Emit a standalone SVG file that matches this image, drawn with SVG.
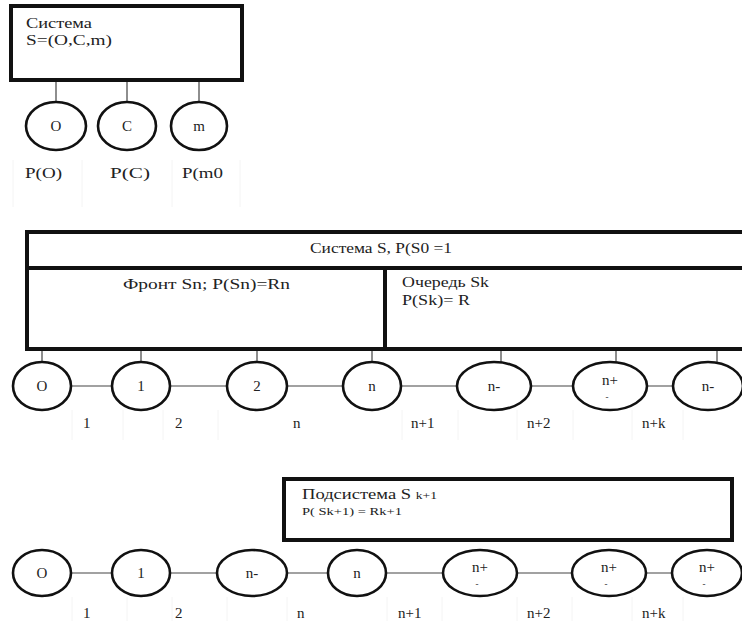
<svg xmlns="http://www.w3.org/2000/svg" width="742" height="621" viewBox="0 0 742 621">
<style>
text{font-family:"Liberation Serif","Times New Roman",serif;font-size:15px;fill:#222}
.c{text-anchor:middle}
.box{fill:#fff;stroke:#111;stroke-width:4}
.el{fill:#fff;stroke:#111;stroke-width:2.6}
.ln{stroke:#444;stroke-width:1.2;fill:none}
.fa{stroke:#f4f4f4;stroke-width:1;fill:none}
.sm{font-size:11px}
.dash{font-size:9px}
</style>
<rect width="742" height="621" fill="#fff"/>
<g id="faint" class="fa">
<path d="M13 160V207M82 160V207M172 160V207M240 160V207"/>
<path d="M72 410V440M123 410V440M163 410V440M218 410V440M402 410V440M458 410V440M517 410V440M573 410V440M632 410V440M683 410V440"/>
<path d="M72 597V621M127 597V621M172 597V621M227 597V621M287 597V621M387 597V621M442 597V621M517 597V621M572 597V621M632 597V621M683 597V621"/>
</g>
<g id="connectors" class="ln">
<path d="M56 80V102M127 80V102M199 80V102"/>
<path d="M42 349V362M141 349V362M257 349V362M372 349V362M501 349V362M616 349V362M717 349V362"/>
<path d="M71 386H112M170 386H227M287 386H343M401 386H457M531 386H573M647 386H673"/>
<path d="M71 573H112M170 573H217M287 573H328M386 573H443M517 573H572M646 573H672"/>
</g>
<g id="system1">
<rect class="box" x="11" y="6" width="231" height="74"/>
<text x="26" y="28" textLength="66" lengthAdjust="spacingAndGlyphs">Система</text>
<text x="26" y="45" textLength="86" lengthAdjust="spacingAndGlyphs">S=(O,C,m)</text>
</g>
<g id="nodeO1"><ellipse class="el" cx="56" cy="126" rx="30" ry="24"/><text class="c" x="56" y="131">O</text></g>
<g id="nodeC1"><ellipse class="el" cx="127" cy="126" rx="29" ry="24"/><text class="c" x="127" y="131">C</text></g>
<g id="nodem1"><ellipse class="el" cx="199" cy="126" rx="28" ry="24"/><text class="c" x="199" y="131">m</text></g>
<g id="labels1">
<text x="25" y="178" textLength="37" lengthAdjust="spacingAndGlyphs">P(O)</text>
<text x="110" y="178" textLength="40" lengthAdjust="spacingAndGlyphs">P(C)</text>
<text x="182" y="178" textLength="41" lengthAdjust="spacingAndGlyphs">P(m0</text>
</g>
<g id="system2">
<rect class="box" x="27" y="232" width="720" height="117"/>
<path d="M27 268H747M385 268V349" stroke="#111" stroke-width="4" fill="none"/>
<text x="310" y="253" textLength="142" lengthAdjust="spacingAndGlyphs">Система S, P(S0 =1</text>
<text x="123" y="289" textLength="167" lengthAdjust="spacingAndGlyphs">Фронт Sn; P(Sn)=Rn</text>
<text x="402" y="287" textLength="87" lengthAdjust="spacingAndGlyphs">Очередь Sk</text>
<text x="402" y="305" textLength="68" lengthAdjust="spacingAndGlyphs">P(Sk)= R</text>
</g>
<g id="r2n0"><ellipse class="el" cx="42" cy="386" rx="29" ry="24"/><text class="c" x="42" y="391">O</text></g>
<g id="r2n1"><ellipse class="el" cx="141" cy="386" rx="29" ry="24"/><text class="c" x="141" y="391">1</text></g>
<g id="r2n2"><ellipse class="el" cx="257" cy="386" rx="30" ry="24"/><text class="c" x="257" y="391">2</text></g>
<g id="r2n3"><ellipse class="el" cx="372" cy="386" rx="29" ry="24"/><text class="c" x="372" y="391">n</text></g>
<g id="r2n4"><ellipse class="el" cx="494" cy="386" rx="37" ry="24"/><text class="c" x="494" y="391">n-</text></g>
<g id="r2n5"><ellipse class="el" cx="610" cy="386" rx="37" ry="24"/><text class="c" x="610" y="385">n+</text><text class="c dash" x="607" y="400">-</text></g>
<g id="r2n6"><ellipse class="el" cx="708" cy="386" rx="35" ry="24"/><text class="c" x="708" y="391">n-</text></g>
<g id="labels2">
<text x="83" y="428">1</text>
<text x="175" y="428">2</text>
<text x="293" y="428">n</text>
<text x="411" y="428">n+1</text>
<text x="527" y="428">n+2</text>
<text x="642" y="428">n+k</text>
</g>
<g id="subsystem">
<rect class="box" x="284" y="479" width="448" height="61"/>
<text x="302" y="499" textLength="135" lengthAdjust="spacingAndGlyphs">Подсистема S <tspan class="sm">k+1</tspan></text>
<text class="sm" x="302" y="515" textLength="100" lengthAdjust="spacingAndGlyphs">P( Sk+1) = Rk+1</text>
</g>
<g id="r3n0"><ellipse class="el" cx="42" cy="573" rx="29" ry="23"/><text class="c" x="42" y="578">O</text></g>
<g id="r3n1"><ellipse class="el" cx="141" cy="573" rx="29" ry="23"/><text class="c" x="141" y="578">1</text></g>
<g id="r3n2"><ellipse class="el" cx="252" cy="573" rx="35" ry="23"/><text class="c" x="252" y="578">n-</text></g>
<g id="r3n3"><ellipse class="el" cx="357" cy="573" rx="29" ry="23"/><text class="c" x="357" y="578">n</text></g>
<g id="r3n4"><ellipse class="el" cx="480" cy="573" rx="37" ry="23"/><text class="c" x="480" y="572">n+</text><text class="c dash" x="477" y="587">-</text></g>
<g id="r3n5"><ellipse class="el" cx="609" cy="573" rx="37" ry="23"/><text class="c" x="609" y="572">n+</text><text class="c dash" x="606" y="587">-</text></g>
<g id="r3n6"><ellipse class="el" cx="707" cy="573" rx="35" ry="23"/><text class="c" x="707" y="572">n+</text><text class="c dash" x="704" y="587">-</text></g>
<g id="labels3">
<text x="83" y="618">1</text>
<text x="175" y="618">2</text>
<text x="297" y="618">n</text>
<text x="398" y="618">n+1</text>
<text x="527" y="618">n+2</text>
<text x="642" y="618">n+k</text>
</g>
</svg>
